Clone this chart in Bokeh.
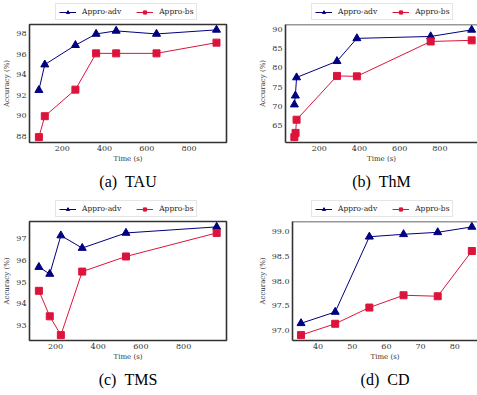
from bokeh.plotting import figure
from bokeh.layouts import row, column
from bokeh.models import (Range1d, Legend, LegendItem, Title, Span,
                          FixedTicker, NumeralTickFormatter)
from bokeh.embed import file_html
from bokeh.resources import INLINE

# ---------------- data ----------------
tau_time = [89, 117, 262, 360, 455, 646, 930]
tau_adv = [92.5, 95.0, 96.9, 98.0, 98.3, 98.0, 98.4]
tau_bs = [87.9, 89.95, 92.55, 96.1, 96.1, 96.1, 97.15]

thm_time_adv = [76, 81, 87, 288, 387, 754, 958]
thm_time_bs = [76, 82, 87, 288, 387, 754, 958]
thm_adv = [70.5, 72.8, 77.5, 81.7, 87.6, 88.1, 89.8]
thm_bs = [62.1, 63.2, 66.6, 77.9, 77.8, 86.8, 87.1]

tms_time = [122, 173, 225, 325, 530, 955]
tms_adv = [95.7, 95.38, 97.16, 96.58, 97.28, 97.56]
tms_bs = [94.6, 93.42, 92.55, 95.49, 96.19, 97.28]

cd_time = [35, 45, 55, 65, 75, 85]
cd_adv = [97.14, 97.37, 98.9, 98.95, 98.99, 99.1]
cd_bs = [96.9, 97.13, 97.46, 97.71, 97.69, 98.61]

time_ticks = [200, 400, 600, 800]
cd_time_ticks = [40, 50, 60, 70, 80]
tau_ticks = [88, 90, 92, 94, 96, 98]
thm_ticks = [65, 70, 75, 80, 85, 90]
tms_ticks = [93, 94, 95, 96, 97]
cd_ticks = [97.0, 97.5, 98.0, 98.5, 99.0]

series_names = ["Appro-adv", "Appro-bs"]
captions = ["(a)\u00a0\u00a0TAU", "(b)\u00a0\u00a0ThM", "(c)\u00a0\u00a0TMS", "(d)\u00a0\u00a0CD"]

ADV = "#000080"
BS = "#DC143C"
FRAME = "#333333"
TXT = "#333333"
SERIF = "DejaVu Serif"
LEG_H = 22


def borders(left_col):
    bl = 29 if left_col else 30
    br = 29 if left_col else 0
    fw = 197 if left_col else 192
    return bl, br, fw


def legend_fig(left_col, tx_adv, y_adv, tx_bs, y_bs):
    # strip holding only the legend; its sample renderers lie outside its view
    bl, br, fw = borders(left_col)
    q = figure(output_backend="svg", toolbar_location=None,
               width=bl + fw + br, height=LEG_H, min_border=0,
               x_axis_location=None, y_axis_location=None,
               x_range=Range1d(0, 1), y_range=Range1d(0, 1))
    q.grid.visible = False
    q.outline_line_color = None
    l1 = q.line(tx_adv, y_adv, line_color=ADV, line_width=1)
    s1 = q.scatter(tx_adv, y_adv, marker="triangle", size=8,
                   fill_color=ADV, line_color=ADV)
    l2 = q.line(tx_bs, y_bs, line_color=BS, line_width=1)
    s2 = q.scatter(tx_bs, y_bs, marker="square", size=7,
                   fill_color=BS, line_color=BS)
    legend = Legend(
        items=[LegendItem(label=series_names[0], renderers=[l1, s1]),
               LegendItem(label=series_names[1], renderers=[l2, s2])],
        orientation="horizontal", location=(bl + 26, 2),
        label_text_font=SERIF, label_text_font_size="7.5px",
        label_text_color="#222222",
        glyph_width=17, glyph_height=8, label_height=8,
        label_standoff=6, spacing=15, padding=3, margin=0,
        border_line_color="#cccccc", border_line_width=1,
        background_fill_color="white", background_fill_alpha=1,
    )
    q.add_layout(legend)
    return q


def panel(tx_adv, y_adv, tx_bs, y_bs, xr, yr, xticks, yticks, caption,
          left_col, top_row, yfmt="0"):
    bl, br, fw = borders(left_col)
    bt = 2
    fh = 118 if top_row else 119
    bb = 55 if top_row else 54
    p = figure(
        output_backend="svg", toolbar_location=None,
        width=bl + fw + br, height=bt + fh + bb,
        min_border_left=bl, min_border_right=br,
        min_border_top=bt, min_border_bottom=bb,
        x_range=Range1d(*xr), y_range=Range1d(*yr),
    )
    p.grid.visible = False
    if left_col:
        p.outline_line_color = FRAME
        p.outline_line_width = 1.6
    else:
        p.outline_line_color = None

    for ax in (p.xaxis[0], p.yaxis[0]):
        ax.major_tick_line_color = None
        ax.minor_tick_line_color = None
        ax.major_tick_out = 0
        ax.major_tick_in = 0
        ax.minor_tick_out = 0
        ax.minor_tick_in = 0
        ax.major_label_text_font = SERIF
        ax.major_label_text_font_size = "8px"
        ax.major_label_text_color = TXT
        ax.axis_label_text_font = SERIF
        ax.axis_label_text_font_size = "7px"
        ax.axis_label_text_font_style = "normal"
        ax.axis_label_text_color = TXT
        ax.axis_line_color = None if left_col else FRAME
        ax.axis_line_width = 1.6
    p.xaxis.ticker = FixedTicker(ticks=xticks)
    p.yaxis.ticker = FixedTicker(ticks=yticks)
    p.yaxis.formatter = NumeralTickFormatter(format=yfmt)
    p.xaxis.major_label_standoff = 3
    p.yaxis.major_label_standoff = 3
    p.xaxis.axis_label_standoff = 1
    p.yaxis.axis_label_standoff = 2
    p.xaxis.axis_label = "Time (s)"
    p.yaxis.axis_label = "Accuracy (%)"

    p.line(tx_adv, y_adv, line_color=ADV, line_width=1)
    p.scatter(tx_adv, y_adv, marker="triangle", size=8,
              fill_color=ADV, line_color=ADV)
    p.line(tx_bs, y_bs, line_color=BS, line_width=1)
    p.scatter(tx_bs, y_bs, marker="square", size=7,
              fill_color=BS, line_color=BS)

    if not left_col:
        p.add_layout(Span(location=yr[1], dimension="width",
                          line_color=FRAME, line_width=1.6))

    p.add_layout(Title(text=caption, align="center",
                       text_font="Liberation Serif", text_font_size="16px",
                       text_font_style="normal", text_color="black",
                       standoff=10), "below")
    return p


pa = panel(tau_time, tau_adv, tau_time, tau_bs, (44.6, 977.4), (87.375, 98.925),
           time_ticks, tau_ticks, captions[0], True, True)
pb = panel(thm_time_adv, thm_adv, thm_time_bs, thm_bs, (31.9, 987), (60.715, 91.185),
           time_ticks, thm_ticks, captions[1], False, True)
pc = panel(tms_time, tms_adv, tms_time, tms_bs, (78, 1001), (92.3, 97.81),
           time_ticks, tms_ticks, captions[2], True, False)
pd = panel(cd_time, cd_adv, cd_time, cd_bs, (32.5, 86.65), (96.79, 99.21),
           cd_time_ticks, cd_ticks, captions[3], False, False, yfmt="0.0")

layout = column(
    row(legend_fig(True, tau_time, tau_adv, tau_time, tau_bs),
        legend_fig(False, thm_time_adv, thm_adv, thm_time_bs, thm_bs)),
    row(pa, pb),
    row(legend_fig(True, tms_time, tms_adv, tms_time, tms_bs),
        legend_fig(False, cd_time, cd_adv, cd_time, cd_bs)),
    row(pc, pd),
)

with open("out.html", "w") as f:
    f.write(file_html(layout, INLINE))
